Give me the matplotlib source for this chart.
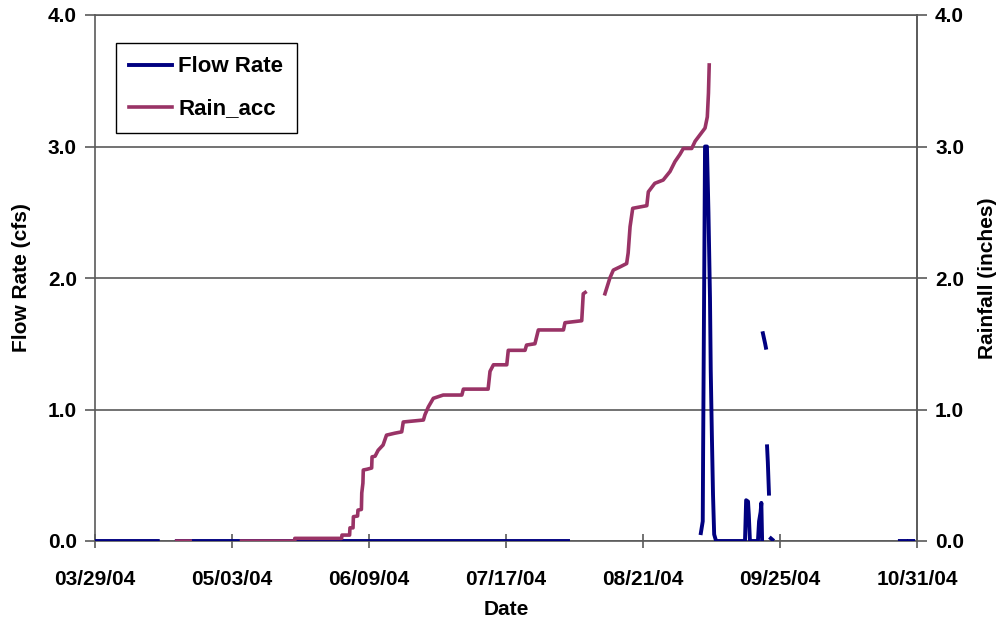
import numpy as np
import matplotlib
matplotlib.use("Agg")
import matplotlib.pyplot as plt

plt.rcParams["font.family"] = ["Liberation Sans", "DejaVu Sans"]
plt.rcParams["font.weight"] = "bold"

nan = np.nan

# days since 03/29/04
tick_days = [0, 36, 72, 108, 144, 180, 216]
tick_labels = ["03/29/04", "05/03/04", "06/09/04", "07/17/04", "08/21/04", "09/25/04", "10/31/04"]

# Flow Rate (cfs), NaN marks missing records
flow_days = [0, 16.5, nan, 21.5, 124.3, nan,
             159.2, 159.7, 159.8, 160.3, 160.8, 161.2, 161.6, 161.8, 162.1, 162.4, 162.7, 163.2,
             170.8, 171.1, 171.6, 171.8, 172.1, 174.2, 174.5, 174.9, 175.1, 175.3, nan,
             175.5, 176.1, 176.3, nan,
             176.6, 176.8, 177.1, nan,
             177.6, 178.0, nan,
             211.5, 213.0, nan, 214.0, 215.0]
flow_vals = [0, 0, nan, 0, 0, nan,
             0.06, 0.15, 0.69, 3.0, 3.0, 2.5, 1.85, 1.3, 0.8, 0.35, 0.05, 0,
             0, 0.31, 0.30, 0.2, 0, 0, 0.15, 0.22, 0.29, 0.0, nan,
             1.58, 1.50, 1.47, nan,
             0.72, 0.60, 0.36, nan,
             0.02, 0.01, nan,
             0, 0, nan, 0, 0]

# Rain_acc (inches)
rain_days = [21.5, 25.0, nan, 38.5, 52.5,
             52.5, 64.8, 64.9, 66.9, 67.0, 67.8, 67.9, 69.0, 69.1, 70.0, 70.1, 70.4, 70.5, 71.4,
             72.7, 72.8, 73.6, 74.4, 75.7, 76.6, 78.8, 80.6, 81.0, 86.3, 86.7, 87.6, 88.9, 91.5,
             96.4, 96.8, 103.3, 103.8, 104.7, 108.2, 108.6, 113.0, 113.4, 115.6, 116.5, 123.1,
             123.5, 127.9, 128.3, 128.8, nan,
             134.0, 135.3, 136.2, 138.0, 139.7, 140.1, 140.6, 141.3, 145.0, 145.4, 147.1, 149.3,
             151.1, 152.4, 153.7, 154.6, 156.8, 157.7, 159.0, 160.3, 160.9, 161.2, 161.4]
rain_vals = [0, 0, nan, 0, 0,
             0.02, 0.02, 0.045, 0.045, 0.10, 0.10, 0.185, 0.19, 0.235, 0.24, 0.365, 0.44, 0.54, 0.545,
             0.555, 0.64, 0.645, 0.69, 0.73, 0.805, 0.82, 0.83, 0.905, 0.92, 0.96, 1.02, 1.085, 1.11,
             1.11, 1.155, 1.155, 1.29, 1.34, 1.34, 1.45, 1.45, 1.49, 1.50, 1.605, 1.605,
             1.66, 1.675, 1.88, 1.89, nan,
             1.88, 2.0, 2.06, 2.085, 2.11, 2.19, 2.39, 2.53, 2.55, 2.655, 2.72, 2.745,
             2.81, 2.885, 2.94, 2.985, 2.985, 3.04, 3.09, 3.14, 3.225, 3.405, 3.62]

BLUE = "#000080"
PLUM = "#993366"
GRID = "#5a5a5a"
FS = 15

fig = plt.figure(figsize=(10.01, 6.27), dpi=100)
ax = fig.add_axes([95 / 1001, 1 - 541 / 627, 822 / 1001, 526 / 627])
ax2 = ax.twinx()

l1, = ax.plot(flow_days, flow_vals, color=BLUE, lw=2.8, label="Flow Rate", zorder=3)
l2, = ax2.plot(rain_days, rain_vals, color=PLUM, lw=2.6, label="Rain_acc", zorder=3)

for a in (ax, ax2):
    a.set_ylim(0, 4)
    a.set_yticks([0, 1, 2, 3, 4])
    a.set_yticklabels([f"{v:.1f}" for v in [0, 1, 2, 3, 4]], fontsize=FS, fontweight="bold")
    a.set_xlim(0, 216)
    for s in a.spines.values():
        s.set_color(GRID)
        s.set_linewidth(1.2)
for side in ("bottom", "top", "left"):
    ax2.spines[side].set_visible(False)

ax.set_xticks(tick_days)
ax.set_xticklabels(tick_labels, fontsize=FS, fontweight="bold")
ax.tick_params(axis="x", direction="inout", length=10, width=1.2, color=GRID, pad=16)
ax.tick_params(axis="y", direction="out", length=7, width=1.2, color=GRID, pad=6)
ax2.tick_params(axis="y", direction="out", length=7, width=1.2, color=GRID, pad=6)
ax.yaxis.grid(True, color=GRID, lw=1.2)
ax.set_axisbelow(True)

ax.set_xlabel("Date", fontsize=FS, fontweight="bold", labelpad=8)
ax.set_ylabel("Flow Rate (cfs)", fontsize=FS, fontweight="bold", labelpad=12)
ax2.set_ylabel("Rainfall (inches)", fontsize=FS, fontweight="bold", labelpad=10)

leg = ax2.legend(handles=[l1, l2], loc="upper left", bbox_to_anchor=(116 / 1001, 1 - 43 / 627),
                 bbox_transform=fig.transFigure, fancybox=False, framealpha=1, edgecolor="black",
                 prop={"size": 16, "weight": "bold"}, handlelength=1.9, handletextpad=0.3,
                 labelspacing=0.95, borderpad=0.6, borderaxespad=0)
leg.get_frame().set_linewidth(1.0)

fig.savefig("out.png", dpi=100)
